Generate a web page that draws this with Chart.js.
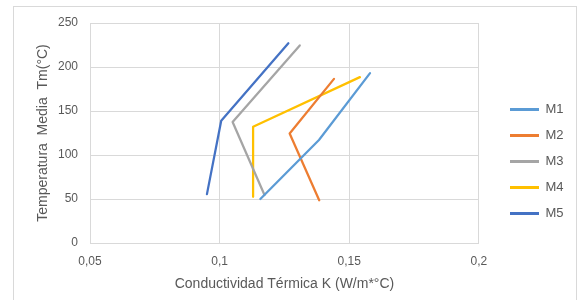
<!DOCTYPE html>
<html>
<head>
<meta charset="utf-8">
<script src="https://cdn.jsdelivr.net/npm/chart.js@4"></script>
<style>
    html, body { margin: 0; padding: 0; background: #ffffff; }
    #chart-box { width: 578px; height: 300px; }
</style>
</head>
<body>
<div id="chart-box"><canvas id="temp-chart" width="578" height="300"></canvas></div>
<script>
// Series: x = K (W/m*°C), y = Tm (°C)
const seriesNames = ['M1', 'M2', 'M3', 'M4', 'M5'];
const seriesColors = ['#5B9BD5', '#ED7D31', '#A5A5A5', '#FFC000', '#4472C4'];

const m1K = [0.1157, 0.1383, 0.158];
const m1T = [50, 117, 193];
const m2K = [0.1384, 0.127, 0.1441];
const m2T = [48.5, 124.5, 186.5];
const m3K = [0.1173, 0.105, 0.1309];
const m3T = [54.5, 137.5, 224.5];
const m4K = [0.1129, 0.1129, 0.1541];
const m4T = [52.5, 132, 188.5];
const m5K = [0.0951, 0.1006, 0.1265];
const m5T = [55.5, 139, 227];

const xTicks = [0.05, 0.1, 0.15, 0.2];
const yTicks = [0, 50, 100, 150, 200, 250];

const seriesK = [m1K, m2K, m3K, m4K, m5K];
const seriesT = [m1T, m2T, m3T, m4T, m5T];

const textColor = '#595959';
const gridColor = '#d9d9d9';
const fontFamily = '"Liberation Sans", Arial, sans-serif';

function toPoints(xs, ys) {
    return xs.map((x, i) => ({ x: x, y: ys[i] }));
}

const datasets = seriesNames.map((name, i) => ({
    label: name,
    data: toPoints(seriesK[i], seriesT[i]),
    borderColor: seriesColors[i],
    backgroundColor: seriesColors[i],
    borderWidth: 2.25,
    borderJoinStyle: 'round',
    borderCapStyle: 'round',
    pointRadius: 0,
    showLine: true,
    fill: false,
    tension: 0
}));

// white background + light frame like the spreadsheet chart
const framePlugin = {
    id: 'frame',
    beforeDraw(chart) {
        const ctx = chart.ctx;
        ctx.save();
        ctx.fillStyle = '#ffffff';
        ctx.fillRect(0, 0, chart.width, chart.height);
        ctx.strokeStyle = gridColor;
        ctx.lineWidth = 1;
        ctx.strokeRect(13.5, 6.5, 563, 300);
        ctx.restore();
    }
};

// push the legend block a bit away from the plot area
const legendGap = {
    id: 'legendGap',
    afterLayout(chart) {
        const lg = chart.legend;
        if (!lg) return;
        const shift = 510 - (lg.left + 13);
        lg.left += shift;
        lg.right += shift;
    }
};

const fmtComma = v => String(Math.round(v * 100) / 100).replace('.', ',');

new Chart(document.getElementById('temp-chart'), {
    type: 'scatter',
    data: { datasets: datasets },
    plugins: [framePlugin, legendGap],
    options: {
        responsive: false,
        animation: false,
        layout: { padding: { top: 23, right: 22.5, bottom: 0, left: 0 } },
        plugins: {
            tooltip: { enabled: false },
            legend: {
                position: 'right',
                labels: {
                    color: textColor,
                    font: { family: fontFamily, size: 13 },
                    boxWidth: 29,
                    boxHeight: 3,
                    padding: 13,
                    generateLabels: chart => chart.data.datasets.map((ds, i) => ({
                        text: ds.label,
                        fillStyle: ds.borderColor,
                        strokeStyle: ds.borderColor,
                        lineWidth: 0,
                        hidden: false,
                        datasetIndex: i,
                        fontColor: textColor
                    }))
                }
            }
        },
        scales: {
            x: {
                type: 'linear',
                min: xTicks[0],
                max: xTicks[xTicks.length - 1],
                afterBuildTicks: scale => { scale.ticks = xTicks.map(v => ({ value: v })); },
                afterFit: scale => { scale.height = 57; },
                grid: { color: gridColor, drawTicks: false },
                border: { color: gridColor },
                ticks: {
                    color: textColor,
                    font: { family: fontFamily, size: 12 },
                    padding: 11,
                    callback: v => fmtComma(v)
                },
                title: {
                    display: true,
                    text: 'Conductividad Térmica K (W/m*°C)',
                    color: textColor,
                    font: { family: fontFamily, size: 14 },
                    padding: { top: 0, bottom: 7.6 }
                }
            },
            y: {
                type: 'linear',
                min: yTicks[0],
                max: yTicks[yTicks.length - 1],
                afterBuildTicks: scale => { scale.ticks = yTicks.map(v => ({ value: v })); },
                afterFit: scale => { scale.width = 90; },
                grid: { color: gridColor, drawTicks: false },
                border: { color: gridColor },
                ticks: {
                    color: textColor,
                    font: { family: fontFamily, size: 12 },
                    padding: 12
                },
                title: {
                    display: true,
                    text: 'Temperatura  Media  Tm(°C)',
                    color: textColor,
                    font: { family: fontFamily, size: 14 },
                    padding: { top: 34.6, bottom: 0 }
                }
            }
        }
    }
});
</script>
</body>
</html>
